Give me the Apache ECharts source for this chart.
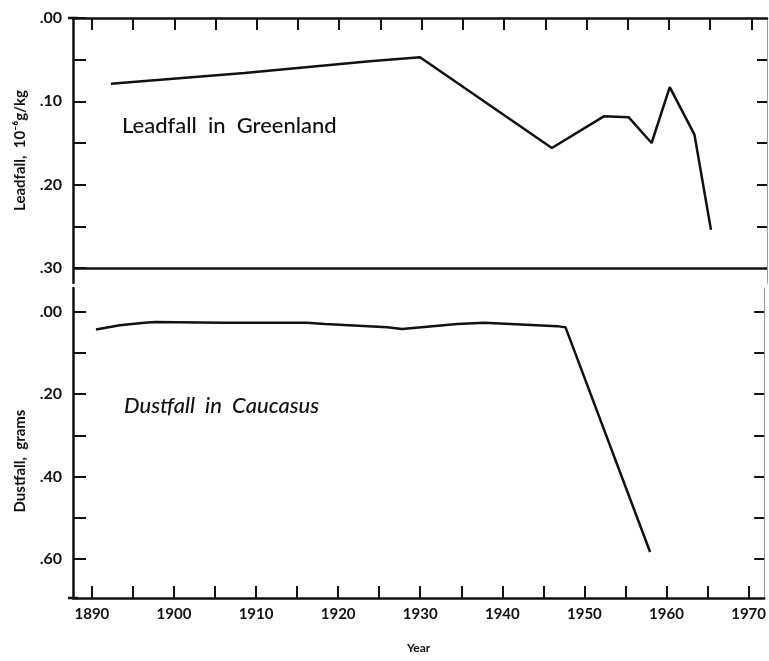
<!DOCTYPE html>
<html>
<head>
<meta charset="utf-8">
<script src="https://cdn.jsdelivr.net/npm/echarts@6/dist/echarts.min.js"></script>
<style>
  html, body { margin: 0; padding: 0; background: #fff; }
  #chart { width: 769px; height: 661px; }
</style>
</head>
<body>
<div id="chart"></div>
<script>
// Leadfall in Greenland (10^-6 g/kg)
const leadYears = [1892.3, 1908.5, 1923.7, 1929.8, 1945.8, 1952.1, 1955.1, 1957.9, 1960.1, 1963.1, 1965.1];
const leadValues = [0.079, 0.066, 0.052, 0.047, 0.156, 0.118, 0.119, 0.150, 0.083, 0.140, 0.254];

// Dustfall in Caucasus (grams)
const dustYears = [1890.5, 1893.4, 1896.4, 1897.7, 1906.0, 1916.2, 1918.4, 1926.0, 1927.8, 1934.5, 1937.8, 1946.7, 1947.7, 1958.0];
const dustValues = [0.043, 0.033, 0.027, 0.025, 0.027, 0.027, 0.030, 0.038, 0.042, 0.030, 0.027, 0.035, 0.038, 0.583];

// ticks and labels
const yearTicks = [1890, 1895, 1900, 1905, 1910, 1915, 1920, 1925, 1930, 1935, 1940, 1945, 1950, 1955, 1960, 1965, 1970];
const yearLabels = [1890, 1900, 1910, 1920, 1930, 1940, 1950, 1960, 1970];
const leadTicks = [0, 0.05, 0.10, 0.15, 0.20, 0.25, 0.30];
const leadLabels = [0, 0.10, 0.20, 0.30];
const dustTicks = [0, 0.10, 0.20, 0.30, 0.40, 0.50, 0.60];
const dustLabels = [0, 0.20, 0.40, 0.60];

const ink = '#111';
const font = 'Lato, "DejaVu Sans", sans-serif';
const fmt = v => v.toFixed(2).replace(/^0/, '');

const chart = echarts.init(document.getElementById('chart'));

const xCommon = {
    type: 'value',
    min: 1887.7,
    max: 1971.9,
    splitLine: { show: false },
    axisLine: { onZero: false, lineStyle: { color: ink, width: 2.5 } },
    axisTick: { inside: true, length: 12, customValues: yearTicks, lineStyle: { color: ink, width: 2 } }
};

const yLeft = {
    type: 'value',
    position: 'left',
    inverse: true,
    splitLine: { show: false },
    axisTick: { inside: true, length: 13, lineStyle: { color: ink, width: 2 } },
    axisLabel: { color: ink, fontFamily: font, fontSize: 16, fontWeight: 'bold', margin: 11, formatter: fmt },
    nameLocation: 'middle',
    nameTextStyle: { color: ink, fontFamily: font, fontSize: 15, fontWeight: 'bold' }
};

const yRight = {
    type: 'value',
    position: 'right',
    inverse: true,
    splitLine: { show: false },
    axisLabel: { show: false },
    axisLine: { onZero: false, lineStyle: { color: '#999', width: 1 } }
};

const option = {
    backgroundColor: '#fff',
    animation: false,
    grid: [
        { left: 73, right: 2, top: 18, height: 265 },
        { left: 73, right: 2, top: 288, height: 310 }
    ],
    xAxis: [
        Object.assign({}, xCommon, {
            gridIndex: 0,
            position: 'top',
            axisLabel: { show: false }
        }),
        Object.assign({}, xCommon, {
            gridIndex: 1,
            position: 'bottom',
            name: 'Year',
            nameLocation: 'middle',
            nameGap: 44,
            nameTextStyle: { color: ink, fontFamily: font, fontSize: 12, fontWeight: 'bold' },
            axisLabel: {
                customValues: yearLabels, color: ink, fontFamily: font, fontSize: 15,
                fontWeight: 'bold', margin: 9, formatter: v => String(v)
            }
        })
    ],
    yAxis: [
        Object.assign({}, yLeft, {
            gridIndex: 0,
            min: 0,
            max: 0.318,
            name: 'Leadfall,  10\u207B\u2076g/kg',
            nameGap: 45,
            axisLine: { onZero: false, symbol: ['none', 'rect'], symbolSize: [10, 2.5], lineStyle: { color: ink, width: 2.5 } },
            axisTick: Object.assign({}, yLeft.axisTick, { customValues: leadTicks }),
            axisLabel: Object.assign({}, yLeft.axisLabel, { customValues: leadLabels })
        }),
        Object.assign({}, yRight, {
            gridIndex: 0,
            min: 0,
            max: 0.318,
            axisTick: { inside: true, length: 10, customValues: leadTicks.slice(1, 6), lineStyle: { color: ink, width: 2 } }
        }),
        Object.assign({}, yLeft, {
            gridIndex: 1,
            min: -0.0575,
            max: 0.6946,
            name: 'Dustfall,  grams',
            nameGap: 45,
            nameTextStyle: Object.assign({}, yLeft.nameTextStyle, { padding: [0, 36, 0, 0] }),
            axisLine: { onZero: false, symbol: ['rect', 'none'], symbolSize: [10, 2.5], lineStyle: { color: ink, width: 2.5 } },
            axisTick: Object.assign({}, yLeft.axisTick, { customValues: dustTicks }),
            axisLabel: Object.assign({}, yLeft.axisLabel, { customValues: dustLabels })
        }),
        Object.assign({}, yRight, {
            gridIndex: 1,
            min: -0.0575,
            max: 0.6946,
            axisTick: { inside: true, length: 10, customValues: dustTicks, lineStyle: { color: ink, width: 2 } }
        })
    ],
    series: [
        {
            name: 'Leadfall',
            type: 'line',
            xAxisIndex: 0,
            yAxisIndex: 0,
            symbol: 'none',
            data: leadYears.map((y, i) => [y, leadValues[i]]),
            lineStyle: { color: ink, width: 2.5 },
            markLine: {
                silent: true,
                symbol: 'none',
                label: { show: false },
                lineStyle: { color: ink, width: 2.5, type: 'solid' },
                data: [{ yAxis: 0.30 }]
            }
        },
        {
            name: 'Dustfall',
            type: 'line',
            xAxisIndex: 1,
            yAxisIndex: 2,
            symbol: 'none',
            data: dustYears.map((y, i) => [y, dustValues[i]]),
            lineStyle: { color: ink, width: 2.5 }
        }
    ],
    graphic: [
        {
            type: 'text', left: 122, top: 115,
            style: { text: 'Leadfall  in  Greenland', fill: ink, font: '500 22px ' + font }
        },
        {
            type: 'text', left: 124, top: 395,
            style: { text: 'Dustfall  in  Caucasus', fill: ink, font: 'italic 500 22px ' + font }
        }
    ]
};

chart.setOption(option);
</script>
</body>
</html>
